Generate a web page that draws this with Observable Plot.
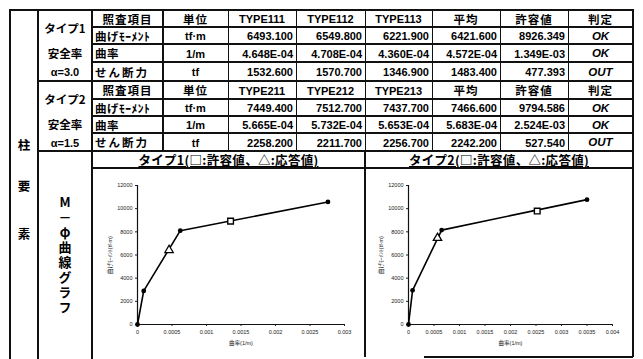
<!DOCTYPE html>
<html><head><meta charset="utf-8">
<script src="https://cdn.jsdelivr.net/npm/d3@7"></script>
<script src="https://cdn.jsdelivr.net/npm/@observablehq/plot@0.6"></script>
<style>
html,body{margin:0;padding:0;background:#fff;}
#root{position:relative;width:643px;height:359px;overflow:hidden;background:#fff;font-family:"Liberation Sans","Noto Sans CJK JP",sans-serif;color:#000;}
.ln{position:absolute;background:#111;}
.c{position:absolute;display:flex;align-items:center;box-sizing:border-box;white-space:nowrap;font-weight:bold;font-size:11px;line-height:1;padding-top:2px;}
.jp{font-family:"Noto Sans CJK JP",sans-serif;}
.chart{position:absolute;}
</style></head><body><div id="root"></div>
<script>
// ---- table data ----
const headerLabels = ["照査項目", "単位"];
const type1Cases = ["TYPE111", "TYPE112", "TYPE113"];
const type2Cases = ["TYPE211", "TYPE212", "TYPE213"];
const summaryHeaders = ["平均", "許容値", "判定"];
const checkItems = ["曲げﾓｰﾒﾝﾄ", "曲率", "せん断力"];
const units = ["tf·m", "1/m", "tf"];
const type1Labels = ["タイプ1", "安全率", "α=3.0"];
const type2Labels = ["タイプ2", "安全率", "α=1.5"];
const type1Values = [["6493.100", "6549.800", "6221.900"], ["4.648E-04", "4.708E-04", "4.360E-04"], ["1532.600", "1570.700", "1346.900"]];
const type1Average = ["6421.600", "4.572E-04", "1483.400"];
const type1Allowable = ["8926.349", "1.349E-03", "477.393"];
const type1Judgement = ["OK", "OK", "OUT"];
const type2Values = [["7449.400", "7512.700", "7437.700"], ["5.665E-04", "5.732E-04", "5.653E-04"], ["2258.200", "2211.700", "2256.700"]];
const type2Average = ["7466.600", "5.683E-04", "2242.200"];
const type2Allowable = ["9794.586", "2.524E-03", "527.540"];
const type2Judgement = ["OK", "OK", "OUT"];
const elementLabel = ["柱", "要", "素"];
const graphLabel = "M－φ曲線グラフ";
const chartTitles = ["タイプ1(□:許容値、△:応答値)", "タイプ2(□:許容値、△:応答値)"];

// ---- chart data (skeleton curve) ----
const type1SkeletonCurvature = [0, 0.00009, 0.00062, 0.00276];
const type1SkeletonMoment = [0, 2900, 8100, 10580];
const type2SkeletonCurvature = [0, 0.00008, 0.00065, 0.0035];
const type2SkeletonMoment = [0, 2950, 8150, 10780];
const yTicks = [0, 2000, 4000, 6000, 8000, 10000, 12000];
const type1XTicks = [0, 0.0005, 0.001, 0.0015, 0.002, 0.0025, 0.003];
const type2XTicks = [0, 0.0005, 0.001, 0.0015, 0.002, 0.0025, 0.003, 0.0035, 0.004];
const xAxisLabel = "曲率(1/m)";
const yAxisLabel = "曲げﾓｰﾒﾝﾄ(tf·m)";

const root = document.getElementById("root");
function el(cls, style, text) {
  const d = document.createElement("div");
  d.className = cls;
  Object.assign(d.style, style);
  if (text != null) d.textContent = text;
  root.appendChild(d);
  return d;
}
function hline(x0, x1, y, w = 1) { el("ln", {left: x0 + "px", top: (y - w / 2) + "px", width: (x1 - x0) + "px", height: w + "px"}); }
function vline(x, y0, y1, w = 1) { el("ln", {left: (x - w / 2) + "px", top: y0 + "px", width: w + "px", height: (y1 - y0) + "px"}); }
function cell(x0, x1, y0, y1, text, align = "center", extra = {}, cls = "") {
  const just = align === "left" ? "flex-start" : align === "right" ? "flex-end" : "center";
  return el("c " + cls, Object.assign({left: x0 + "px", top: y0 + "px", width: (x1 - x0) + "px", height: (y1 - y0) + "px",
    justifyContent: just, paddingLeft: align === "left" ? "3px" : "0", paddingRight: align === "right" ? "3px" : "0"}, extra), text);
}

const colX = [10, 38, 92, 163, 228, 296, 365, 432, 500, 568, 633];
const sectionRows = [[10, 27, 44, 62, 81], [81, 99, 116, 133, 151]];

function section(rows, cases, labels, values, avg, allow, judge) {
  cell(colX[2], colX[3], rows[0], rows[1], headerLabels[0], "center", {fontSize: "11.5px", letterSpacing: "1px"}, "jp");
  cell(colX[3], colX[4], rows[0], rows[1], headerLabels[1], "center", {fontSize: "11.5px", letterSpacing: "1px"}, "jp");
  cases.forEach((t, i) => cell(colX[4 + i], colX[5 + i], rows[0], rows[1], t, "center"));
  summaryHeaders.forEach((t, i) => cell(colX[7 + i], colX[8 + i], rows[0], rows[1], t, "center", {fontSize: "11.5px", letterSpacing: "1px"}, "jp"));
  checkItems.forEach((item, r) => {
    const y0 = rows[r + 1], y1 = rows[r + 2];
    cell(colX[2], colX[3], y0, y1, item, "left", {fontSize: "11.5px", letterSpacing: r === 2 ? "2px" : "0.5px"}, "jp");
    cell(colX[3], colX[4], y0, y1, units[r], "center");
    values[r].forEach((v, i) => cell(colX[4 + i], colX[5 + i], y0, y1, v, "right"));
    cell(colX[7], colX[8], y0, y1, avg[r], "right");
    cell(colX[8], colX[9], y0, y1, allow[r], "right");
    cell(colX[9], colX[10], y0, y1, judge[r], "center", {fontStyle: "italic", fontSize: "11.5px"});
  });
  const top = rows[0];
  cell(colX[1], colX[2], top + 8, top + 27, labels[0], "center", {fontSize: "11.5px"}, "jp");
  cell(colX[1], colX[2], top + 34, top + 52, labels[1], "center", {fontSize: "11.5px"}, "jp");
  cell(colX[1], colX[2], top + 53, top + 70, labels[2], "center", {fontSize: "11px"});
}
section(sectionRows[0], type1Cases, type1Labels, type1Values, type1Average, type1Allowable, type1Judgement);
section(sectionRows[1], type2Cases, type2Labels, type2Values, type2Average, type2Allowable, type2Judgement);

// element column
[136, 177, 225].forEach((y, i) => cell(colX[0], colX[1], y, y + 16, elementLabel[i], "center", {fontSize: "12.5px"}, "jp"));
el("c jp", {left: "55px", top: "194px", width: "20px", writingMode: "vertical-rl", textOrientation: "upright",
  fontSize: "13px", letterSpacing: "2px", justifyContent: "center"}, graphLabel);

// chart titles
cell(colX[2], colX[6], 151, 168, chartTitles[0], "center", {fontSize: "12.5px", textDecoration: "underline", letterSpacing: "0.3px"}, "jp");
cell(colX[6], colX[10], 151, 168, chartTitles[1], "center", {fontSize: "12.5px", textDecoration: "underline", letterSpacing: "0.3px"}, "jp");

// ---- charts ----
function mphiChart(skX, skY, allowArr, avgArr, xMax, xTicks, width, ml, mr) {
  const skeleton = skX.map((x, i) => ({x, y: skY[i]}));
  const allowable = [{x: Number(allowArr[1]), y: Number(allowArr[0])}];
  const response = [{x: Number(avgArr[1]), y: Number(avgArr[0])}];
  return Plot.plot({
    width, height: 189, marginLeft: ml, marginRight: mr, marginTop: 17, marginBottom: 33,
    style: {fontSize: "5.5px", fontFamily: "Liberation Sans, Noto Sans CJK JP, sans-serif", background: "transparent", color: "#222", overflow: "visible"},
    x: {domain: [0, xMax], ticks: xTicks, tickFormat: d => String(d), tickSize: 2, tickPadding: 4, label: xAxisLabel, labelAnchor: "center", labelOffset: 20, labelArrow: "none"},
    y: {domain: [0, 12000], ticks: yTicks, tickFormat: d => String(d), tickSize: 2, tickPadding: 3, label: yAxisLabel, labelAnchor: "center", labelOffset: 29, labelArrow: "none"},
    marks: [
      Plot.ruleX([0], {stroke: "#111", strokeWidth: 1.2}),
      Plot.ruleY([0], {stroke: "#111", strokeWidth: 1.2}),
      Plot.line(skeleton, {x: "x", y: "y", stroke: "#000", strokeWidth: 1.6}),
      Plot.dot(skeleton, {x: "x", y: "y", r: 2.4, fill: "#000", stroke: "none"}),
      Plot.dot(allowable, {x: "x", y: "y", symbol: "square", r: 3.2, fill: "#fff", stroke: "#000", strokeWidth: 1.4}),
      Plot.dot(response, {x: "x", y: "y", symbol: "triangle", r: 3.1, fill: "#fff", stroke: "#000", strokeWidth: 1.3})
    ]
  });
}
const c1 = mphiChart(type1SkeletonCurvature, type1SkeletonMoment, type1Allowable, type1Average, 0.003, type1XTicks, 273, 45, 21);
const c2 = mphiChart(type2SkeletonCurvature, type2SkeletonMoment, type2Allowable, type2Average, 0.004, type2XTicks, 268, 43, 21);
const w1 = el("chart", {left: "92px", top: "168px"}); w1.appendChild(c1);
const w2 = el("chart", {left: "365px", top: "168px"}); w2.appendChild(c2);

// ---- grid lines ----
hline(10, 633, 10, 2);
vline(10, 9, 359, 2);
vline(38, 9, 359, 2);
vline(92, 9, 359, 2);
vline(633, 9, 357, 2);
[4, 5, 6, 7, 8, 9].forEach(i => vline(colX[i], 10, 151, 1));
vline(colX[3], 10, 151, 1.2);
vline(365, 151, 357, 1.5);
sectionRows.forEach(rows => rows.slice(1, 4).forEach(y => hline(92, 633, y, 1.2)));
hline(38, 633, 81, 2);
hline(38, 633, 151, 2);
hline(92, 633, 168, 1.2);
hline(424, 633, 357, 1.5);
</script></body></html>
